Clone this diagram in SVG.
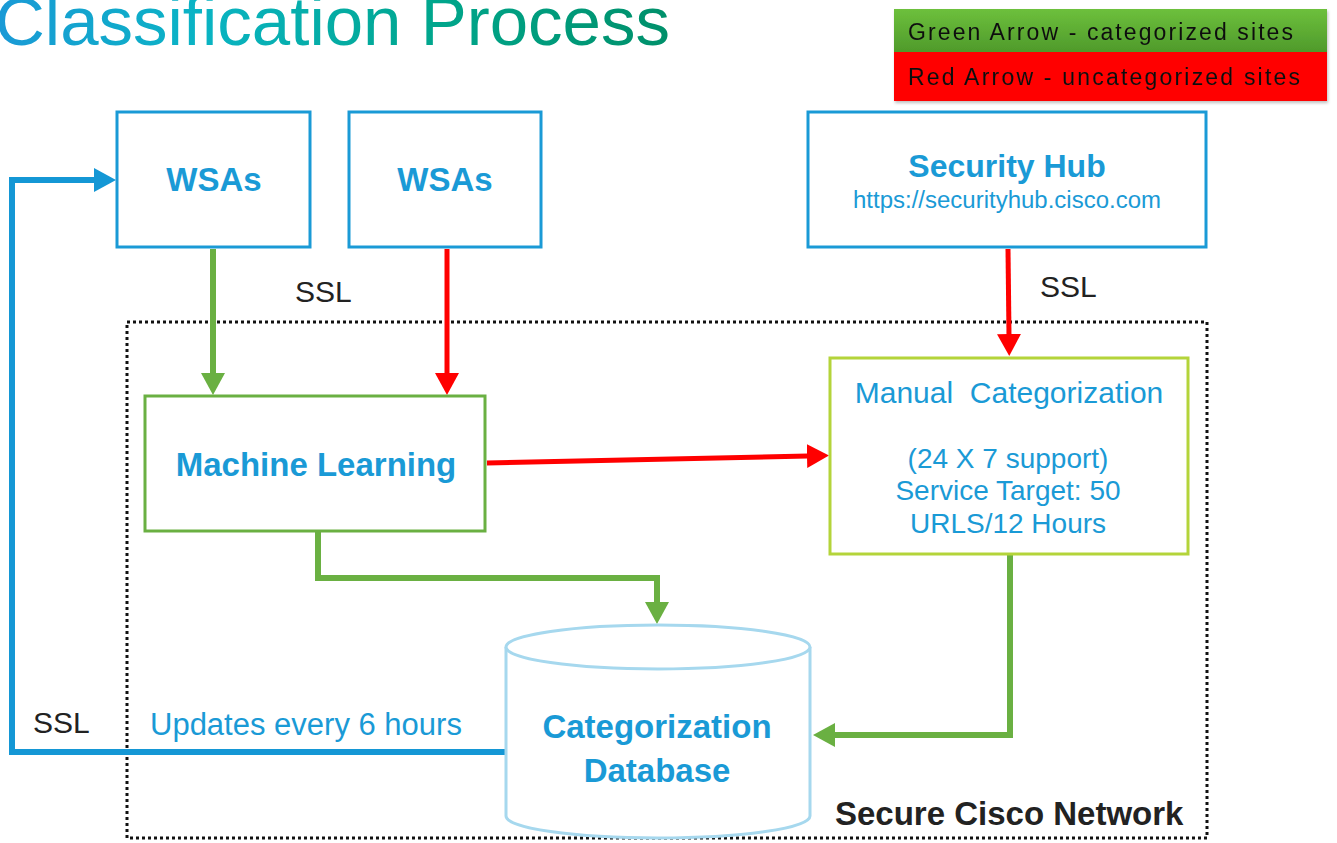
<svg xmlns="http://www.w3.org/2000/svg" width="1337" height="843" viewBox="0 0 1337 843">
<defs>
  <linearGradient id="titleGrad" gradientUnits="userSpaceOnUse" x1="0" y1="0" x2="670" y2="0">
    <stop offset="0" stop-color="#1a9ad6"/>
    <stop offset="0.3" stop-color="#0ab4c4"/>
    <stop offset="0.65" stop-color="#00a68c"/>
    <stop offset="1" stop-color="#00906a"/>
  </linearGradient>
  <linearGradient id="greenLeg" x1="0" y1="0" x2="0" y2="1">
    <stop offset="0" stop-color="#6dc03c"/>
    <stop offset="1" stop-color="#4f9a2b"/>
  </linearGradient>
  <filter id="shadow" x="-5%" y="-20%" width="110%" height="150%">
    <feDropShadow dx="1" dy="2" stdDeviation="1.5" flood-color="#000" flood-opacity="0.25"/>
  </filter>
  <marker id="ahRed" viewBox="0 -12 22 24" refX="1" refY="0" markerWidth="22" markerHeight="24" markerUnits="userSpaceOnUse" orient="auto">
    <path d="M0,-12 L22,0 L0,12 z" fill="#ff0000"/>
  </marker>
  <marker id="ahGreen" viewBox="0 -12 22 24" refX="1" refY="0" markerWidth="22" markerHeight="24" markerUnits="userSpaceOnUse" orient="auto">
    <path d="M0,-12 L22,0 L0,12 z" fill="#6ab042"/>
  </marker>
  <marker id="ahBlue" viewBox="0 -12 22 24" refX="1" refY="0" markerWidth="22" markerHeight="24" markerUnits="userSpaceOnUse" orient="auto">
    <path d="M0,-12 L22,0 L0,12 z" fill="#1497d5"/>
  </marker>
</defs>
<style>
  .blueBox { fill: #ffffff; stroke: #1a9ad6; stroke-width: 3; }
  .greenBox { fill: #ffffff; stroke: #6ab042; stroke-width: 3; }
  .limeBox { fill: #ffffff; stroke: #b4d43a; stroke-width: 3; }
  .bold { font-family: "Liberation Sans", Arial, sans-serif; font-weight: bold; fill: #1a9ad6; }
  .reg { font-family: "Liberation Sans", Arial, sans-serif; fill: #1a9ad6; }
  .dark { font-family: "Liberation Sans", Arial, sans-serif; fill: #222222; }
  .legend { font-family: "Liberation Sans", Arial, sans-serif; fill: #111111; font-size: 23px; }
  .red { fill: none; stroke: #ff0000; stroke-width: 5; marker-end: url(#ahRed); }
  .green { fill: none; stroke: #6ab042; stroke-width: 6; marker-end: url(#ahGreen); }
  .blue { fill: none; stroke: #1497d5; stroke-width: 6; marker-end: url(#ahBlue); }
</style>

<rect width="1337" height="843" fill="#ffffff"/>

<g id="title">
  <text x="-5" y="45" font-family="Liberation Sans, Arial, sans-serif" font-size="69" fill="url(#titleGrad)">Classification Process</text>
</g>

<g id="legend" filter="url(#shadow)">
  <rect x="894" y="9" width="433" height="43" fill="url(#greenLeg)"/>
  <rect x="894" y="52" width="433" height="49" fill="#ff0000"/>
  <text class="legend" x="908" y="40" textLength="385" lengthAdjust="spacing">Green Arrow - categorized sites</text>
  <text class="legend" x="908" y="85" textLength="392" lengthAdjust="spacing">Red Arrow - uncategorized sites</text>
</g>

<g id="secure-network">
  <rect x="127" y="322" width="1080" height="516" fill="none" stroke="#111111" stroke-width="3" stroke-dasharray="3 3"/>
  <text class="dark" x="835" y="825" font-size="33" font-weight="bold" fill="#111111">Secure Cisco Network</text>
</g>

<g id="connectors">
  <path class="blue" d="M505,752 L12,752 L12,180 L95,180"/>
  <path class="green" d="M213,249 L213,374"/>
  <path class="red" d="M447,249 L447,374"/>
  <path class="red" d="M1008,249 L1009,335"/>
  <path class="red" d="M487,463 L808,456"/>
  <path class="green" d="M318,532 L318,578 L657,578 L657,603"/>
  <path class="green" d="M1010,555 L1010,735 L834,735"/>
</g>

<g id="labels">
  <text class="dark" x="295" y="302" font-size="30">SSL</text>
  <text class="dark" x="1040" y="297" font-size="30">SSL</text>
  <text class="dark" x="33" y="733" font-size="30">SSL</text>
  <text class="reg" x="150" y="735" font-size="31">Updates every 6 hours</text>
</g>

<g id="wsas-1">
  <rect class="blueBox" x="117" y="112" width="193" height="135"/>
  <text class="bold" x="214" y="191" font-size="33" text-anchor="middle">WSAs</text>
</g>

<g id="wsas-2">
  <rect class="blueBox" x="349" y="112" width="192" height="135"/>
  <text class="bold" x="445" y="191" font-size="33" text-anchor="middle">WSAs</text>
</g>

<g id="security-hub">
  <rect class="blueBox" x="808" y="112" width="398" height="135"/>
  <text class="bold" x="1007" y="177" font-size="32" text-anchor="middle">Security Hub</text>
  <text class="reg" x="1007" y="208" font-size="23" text-anchor="middle" textLength="308" lengthAdjust="spacingAndGlyphs">https://securityhub.cisco.com</text>
</g>

<g id="machine-learning">
  <rect class="greenBox" x="145" y="396" width="340" height="135"/>
  <text class="bold" x="316" y="476" font-size="33" text-anchor="middle">Machine Learning</text>
</g>

<g id="manual-categorization">
  <rect class="limeBox" x="830" y="358" width="358" height="196"/>
  <text class="reg" x="1009" y="403" font-size="30" text-anchor="middle" xml:space="preserve">Manual  Categorization</text>
  <text class="reg" x="1008" y="468" font-size="28" text-anchor="middle">(24 X 7 support)</text>
  <text class="reg" x="1008" y="500" font-size="28" text-anchor="middle">Service Target: 50</text>
  <text class="reg" x="1008" y="533" font-size="28" text-anchor="middle">URLS/12 Hours</text>
</g>

<g id="categorization-database">
  <path d="M506,647 L506,816 A152,22 0 0 0 810,816 L810,647" fill="#ffffff" stroke="#a6d8ee" stroke-width="3"/>
  <ellipse cx="658" cy="647" rx="152" ry="22" fill="#ffffff" stroke="#a6d8ee" stroke-width="3"/>
  <text class="bold" x="657" y="738" font-size="33" text-anchor="middle">Categorization</text>
  <text class="bold" x="657" y="782" font-size="33" text-anchor="middle">Database</text>
</g>
</svg>
